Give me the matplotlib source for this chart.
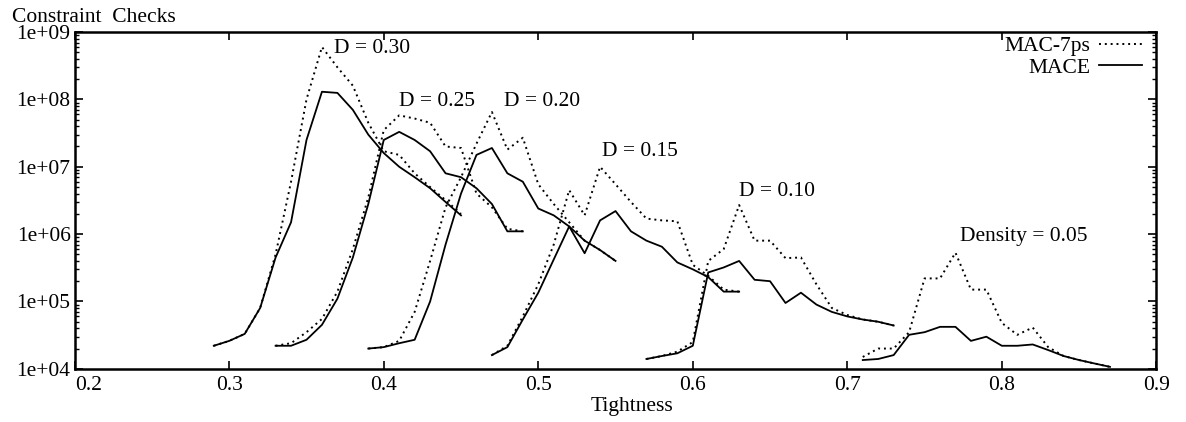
import numpy as np
import matplotlib
matplotlib.use("Agg")
import matplotlib.pyplot as plt
from matplotlib.lines import Line2D
from matplotlib.ticker import LogLocator, NullFormatter

plt.rcParams['font.family'] = ['Liberation Serif', 'DejaVu Serif']

# --- constraint checks per density (tightness grid, 0.01 steps) ---
x_d30 = [0.29, 0.30, 0.31, 0.32, 0.33, 0.34, 0.35, 0.36, 0.37, 0.38, 0.39, 0.40, 0.41, 0.42, 0.43, 0.44, 0.45]
mac_d30 = [2.2e4, 2.6e4, 3.3e4, 8e4, 5e5, 6e6, 1e8, 6e8, 3e8, 1.6e8, 4.5e7, 1.7e7, 1.5e7, 8e6, 5e6, 3.2e6, 2e6]
mace_d30 = [2.2e4, 2.6e4, 3.3e4, 8e4, 4.5e5, 1.5e6, 2.5e7, 1.3e8, 1.25e8, 7e7, 3e7, 1.6e7, 1.0e7, 7e6, 4.8e6, 3e6, 1.9e6]

x_d25 = [0.33, 0.34, 0.35, 0.36, 0.37, 0.38, 0.39, 0.40, 0.41, 0.42, 0.43, 0.44, 0.45, 0.46, 0.47, 0.48, 0.49]
mac_d25 = [2.2e4, 2.4e4, 3.5e4, 5.5e4, 1.4e5, 6e5, 3.5e6, 3.5e7, 5.8e7, 5.2e7, 4.5e7, 2e7, 1.9e7, 4e6, 2.5e6, 1.2e6, 1.1e6]
mace_d25 = [2.2e4, 2.2e4, 2.7e4, 4.5e4, 1.1e5, 4.5e5, 2.8e6, 2.5e7, 3.3e7, 2.5e7, 1.7e7, 8e6, 7e6, 4.8e6, 2.8e6, 1.1e6, 1.1e6]

x_d20 = [0.39, 0.40, 0.41, 0.42, 0.43, 0.44, 0.45, 0.46, 0.47, 0.48, 0.49, 0.50, 0.51, 0.52, 0.53, 0.54, 0.55]
mac_d20 = [2e4, 2.1e4, 2.6e4, 7e4, 4e5, 2.5e6, 7e6, 2.2e7, 6.5e7, 1.8e7, 2.7e7, 5.5e6, 2.8e6, 1.5e6, 8e5, 5.8e5, 4e5]
mace_d20 = [2e4, 2.1e4, 2.4e4, 2.7e4, 1e5, 7e5, 4e6, 1.5e7, 1.9e7, 8e6, 6e6, 2.4e6, 1.9e6, 1.3e6, 8e5, 5.8e5, 4e5]

x_d15 = [0.47, 0.48, 0.49, 0.50, 0.51, 0.52, 0.53, 0.54, 0.55, 0.56, 0.57, 0.58, 0.59, 0.60, 0.61, 0.62, 0.63]
mac_d15 = [1.6e4, 2.2e4, 6e4, 1.8e5, 7e5, 4.5e6, 1.9e6, 1e7, 5.5e6, 3e6, 1.7e6, 1.6e6, 1.55e6, 3.5e5, 2.4e5, 1.5e5, 1.4e5]
mace_d15 = [1.6e4, 2.1e4, 5.4e4, 1.35e5, 4.2e5, 1.3e6, 5.2e5, 1.6e6, 2.2e6, 1.1e6, 8e5, 6.5e5, 3.8e5, 3e5, 2.3e5, 1.4e5, 1.4e5]

x_d10 = [0.57, 0.58, 0.59, 0.60, 0.61, 0.62, 0.63, 0.64, 0.65, 0.66, 0.67, 0.68, 0.69, 0.70, 0.71, 0.72, 0.73]
mac_d10 = [1.4e4, 1.55e4, 1.8e4, 2.5e4, 4e5, 6e5, 2.7e6, 8e5, 8e5, 4.4e5, 4.5e5, 1.8e5, 8e4, 6.3e4, 5.4e4, 5e4, 4.4e4]
mace_d10 = [1.4e4, 1.55e4, 1.7e4, 2.2e4, 2.7e5, 3.2e5, 4e5, 2.1e5, 2e5, 9.5e4, 1.35e5, 9e4, 7e4, 6e4, 5.4e4, 5e4, 4.4e4]

x_d05 = [0.71, 0.72, 0.73, 0.74, 0.75, 0.76, 0.77, 0.78, 0.79, 0.80, 0.81, 0.82, 0.83, 0.84, 0.85, 0.86, 0.87]
mac_d05 = [1.5e4, 2e4, 2e4, 3.5e4, 2.2e5, 2.2e5, 5.3e5, 1.5e5, 1.5e5, 4.8e4, 3.2e4, 4.1e4, 2.1e4, 1.55e4, 1.35e4, 1.2e4, 1.07e4]
mace_d05 = [1.35e4, 1.4e4, 1.6e4, 3.2e4, 3.5e4, 4.2e4, 4.2e4, 2.6e4, 3e4, 2.2e4, 2.2e4, 2.3e4, 1.9e4, 1.55e4, 1.35e4, 1.2e4, 1.07e4]

# label text and where it sits (tightness, checks)
labels = ["D = 0.30", "D = 0.25", "D = 0.20", "D = 0.15", "D = 0.10", "Density = 0.05"]
label_x = [0.368, 0.410, 0.478, 0.541, 0.630, 0.773]
label_y = [5.8e8, 9.3e7, 9.3e7, 1.7e7, 4.3e6, 9.1e5]

curves = [
    (x_d30, mac_d30, mace_d30),
    (x_d25, mac_d25, mace_d25),
    (x_d20, mac_d20, mace_d20),
    (x_d15, mac_d15, mace_d15),
    (x_d10, mac_d10, mace_d10),
    (x_d05, mac_d05, mace_d05),
]

dotted = (0, (1, 2))
fs = 15.5

fig = plt.figure(figsize=(11.86, 4.22), dpi=100)
ax = fig.add_axes([0.063, 0.126, 0.912, 0.798])

for xs, mac, mace in curves:
    ax.plot(xs, mac, color='black', linewidth=1.4, linestyle=dotted)
    ax.plot(xs, mace, color='black', linewidth=1.3)

for txt, lx, ly in zip(labels, label_x, label_y):
    ax.text(lx, ly, txt, fontsize=fs, ha='left', va='center')

ax.set_yscale('log')
ax.set_xlim(0.2, 0.9)
ax.set_ylim(1e4, 1e9)

ax.set_xticks([0.2, 0.3, 0.4, 0.5, 0.6, 0.7, 0.8, 0.9])
ax.set_xticklabels(["0.2", "0.3", "0.4", "0.5", "0.6", "0.7", "0.8", "0.9"])
ax.set_yticks([1e4, 1e5, 1e6, 1e7, 1e8, 1e9])
ax.set_yticklabels(["1e+04", "1e+05", "1e+06", "1e+07", "1e+08", "1e+09"])
ax.yaxis.set_minor_locator(LogLocator(base=10, subs=np.arange(2, 10)))
ax.yaxis.set_minor_formatter(NullFormatter())

ax.tick_params(which='both', direction='in', top=True, right=True, labelsize=fs)
ax.tick_params(axis='x', pad=5)
ax.tick_params(axis='y', pad=3)
ax.tick_params(which='major', length=6, width=1.2)
ax.tick_params(which='minor', length=3, width=1.0)
for s in ax.spines.values():
    s.set_linewidth(1.8)

# first x label sits just right of the corner so it clears 1e+04
ax.get_xticklabels()[0].set_horizontalalignment('left')

ax.set_xlabel("Tightness", fontsize=fs)
ax.xaxis.set_label_coords(0.515, -0.085)
fig.text(0.010, 0.958, "Constraint  Checks", fontsize=fs, ha='left', va='center')

handles = [Line2D([], [], color='black', linewidth=1.4, linestyle=dotted),
           Line2D([], [], color='black', linewidth=1.3)]
ax.legend(handles, ["MAC-7ps", "MACE"], loc='upper right', bbox_to_anchor=(0.991, 1.0),
          frameon=False, markerfirst=False, fontsize=fs, handlelength=2.0,
          handletextpad=0.4, labelspacing=0.05, borderaxespad=0.1, borderpad=0.1)

fig.savefig("out.png", dpi=100)
